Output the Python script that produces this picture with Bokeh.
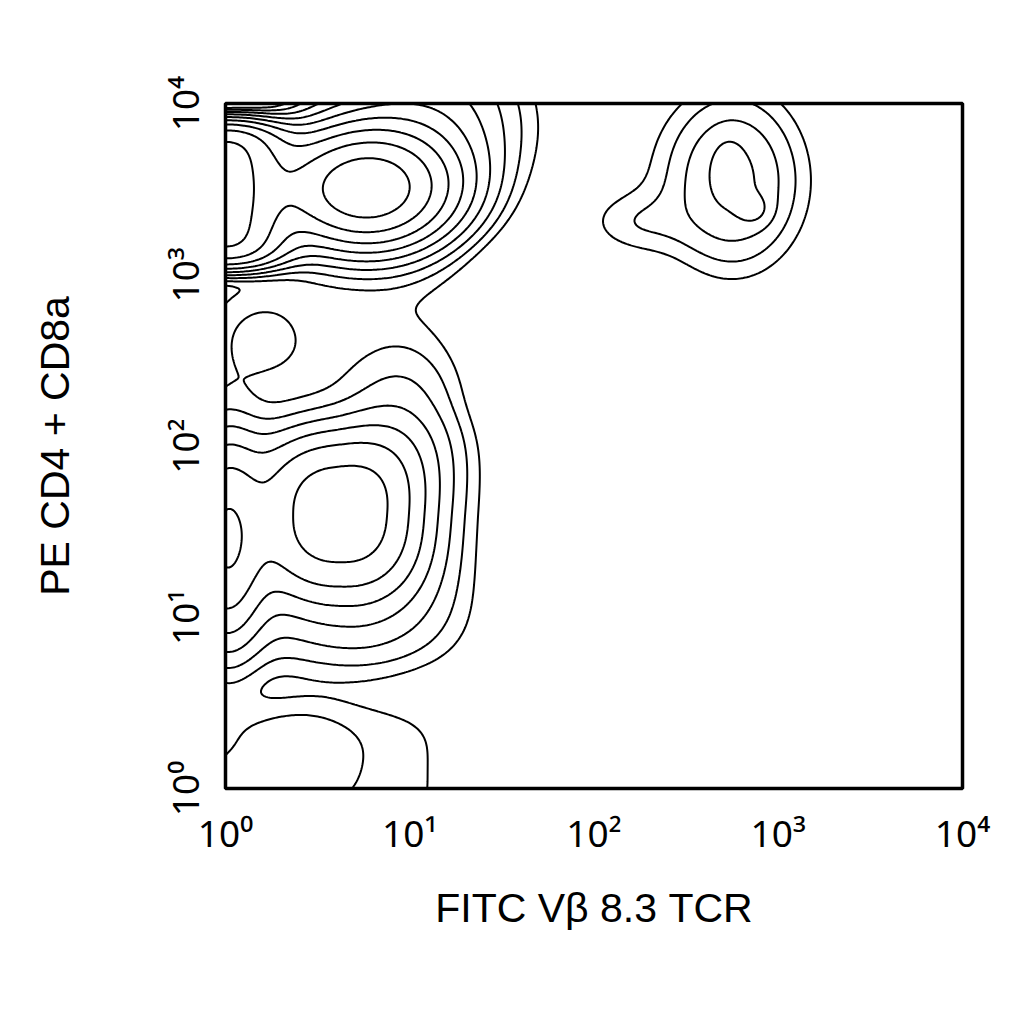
import numpy as np
from bokeh.plotting import figure
from bokeh.embed import file_html
from bokeh.resources import INLINE
from bokeh.models import FixedTicker, Range1d

# ---- populations (positions in decades, log10 of the signal) ----
pop_names = ["CD4/CD8 core", "CD4/CD8 axis pile-up", "CD4/CD8 halo", "mid-left",
             "DN core", "DN axis pile-up", "DN upper tail", "DN lower tail", "low blob",
             "negative band", "negative floor", "mid zone", "corner pile-up",
             "Vb8.3 upper lobe", "Vb8.3 lower lobe", "Vb8.3 core", "Vb8.3 halo", "Vb8.3 left tail"]
fitc_center = [0.76, 0.00, 1.10, 0.20, 0.62, 0.00, 0.95, 0.70, 0.40, 0.55, 0.50, 0.55, 0.00,
               2.73, 2.87, 2.76, 2.72, 2.20]
pe_center   = [3.50, 3.47, 3.90, 2.63, 1.60, 1.45, 2.15, 0.95, 0.20, 1.45, 0.10, 2.70, 0.00,
               3.64, 3.38, 3.55, 3.55, 3.30]
fitc_spread = [0.28, 0.20, 0.35, 0.20, 0.30, 0.13, 0.22, 0.25, 0.20, 0.70, 0.70, 0.70, 0.08,
               0.05, 0.06, 0.20, 0.40, 0.20]
pe_spread   = [0.21, 0.364, 0.35, 0.18, 0.33, 0.38, 0.30, 0.22, 0.20, 0.65, 0.35, 0.35, 0.12,
               0.09, 0.06, 0.30, 0.45, 0.13]
fitc_power  = [2, 2, 2, 2, 2.5, 2, 2, 2, 2, 4, 4, 4, 2, 2, 2, 2, 2, 2]
pe_power    = [2, 6, 2, 2, 2.5, 2, 2, 2, 2, 4, 4, 4, 2, 2, 2, 2, 2, 2]
pop_weight  = [0.34, 0.30, 0.04, 0.010, 0.125, 0.10, 0.02, 0.008, 0.0095, 0.022, 0.013, 0.008,
               0.007, 0.012, 0.012, 0.024, 0.014, 0.009]

contour_levels = [0.01, 0.015, 0.0225, 0.034, 0.051, 0.076, 0.114, 0.171, 0.256, 0.384]

decade_ticks = [1, 10, 100, 1000, 10000]
tick_labels = ["10\u2070", "10\u00b9", "10\u00b2", "10\u00b3", "10\u2074"]

# ---- density surface on a grid in decades ----
u = np.linspace(0, 4, 401)
v = np.linspace(0, 4, 401)
U, V = np.meshgrid(u, v)
Z = np.zeros_like(U)
for uc, vc, su, sv, pu, pv, w in zip(fitc_center, pe_center, fitc_spread, pe_spread,
                                      fitc_power, pe_power, pop_weight):
    du = np.abs((U - uc) / su)
    dv = np.abs((V - vc) / sv)
    Z += w * np.exp(-0.5 * (du ** pu + dv ** pv))

X = 10.0 ** U
Y = 10.0 ** V

p = figure(x_axis_type="log", y_axis_type="log",
           x_range=Range1d(1, 10000), y_range=Range1d(1, 10000),
           frame_width=737, frame_height=685,
           min_border_left=225, min_border_top=103, min_border_right=40, min_border_bottom=150,
           output_backend="svg", toolbar_location=None,
           background_fill_color="white", border_fill_color="white")

p.contour(x=X, y=Y, z=Z, levels=contour_levels, line_color="black", line_width=2,
          fill_color=None)

p.outline_line_color = "black"
p.outline_line_width = 3.5
p.outline_line_alpha = 1.0
p.xgrid.grid_line_color = None
p.ygrid.grid_line_color = None

for ax in (p.xaxis[0], p.yaxis[0]):
    ax.ticker = FixedTicker(ticks=decade_ticks)
    ax.major_label_overrides = {t: lab for t, lab in zip(decade_ticks, tick_labels)}
    ax.axis_line_color = None
    ax.major_tick_line_color = None
    ax.minor_tick_line_color = None
    ax.major_label_text_font = "Noto Sans"
    ax.major_label_text_font_size = "37px"
    ax.major_label_text_color = "black"
    ax.axis_label_text_font = "Liberation Sans"
    ax.axis_label_text_font_size = "41px"
    ax.axis_label_text_font_style = "normal"
    ax.axis_label_text_color = "black"

p.xaxis.axis_label = "FITC V\u03b2 8.3 TCR"
p.yaxis.axis_label = "PE CD4 + CD8a"
p.xaxis.major_label_standoff = 12
p.xaxis.axis_label_standoff = 24
p.yaxis.major_label_orientation = "parallel"
p.yaxis.major_label_standoff = 10
p.yaxis.axis_label_standoff = 78

open("out.html", "w").write(file_html(p, INLINE))
